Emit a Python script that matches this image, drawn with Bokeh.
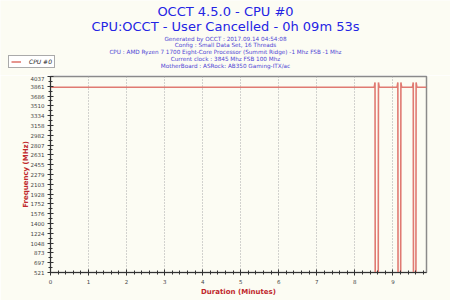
from bokeh.plotting import figure
from bokeh.layouts import column
from bokeh.models import (FixedTicker, Range1d, Label, Legend, LegendItem,
                          ColumnDataSource)
from bokeh.embed import file_html
from bokeh.resources import INLINE

# ---- data ----
time_min = [0.0, 0.05, 1.2, 2.6, 4.1, 5.5, 7.0, 8.51,
            8.53, 8.535, 8.615, 8.62, 8.64,
            9.11, 9.13, 9.135, 9.205, 9.21, 9.23,
            9.515, 9.535, 9.54, 9.605, 9.61, 9.63, 9.883]
freq_mhz = [3845, 3845, 3845, 3845, 3845, 3845, 3845, 3845,
            3930, 521, 521, 3930, 3845,
            3845, 3930, 521, 521, 3930, 3845,
            3845, 3930, 521, 521, 3930, 3845, 3845]
y_ticks = [521, 697, 873, 1048, 1224, 1400, 1576, 1752, 1928, 2103, 2279,
           2455, 2631, 2807, 2982, 3158, 3334, 3510, 3686, 3861, 4037]
x_ticks = [0, 1, 2, 3, 4, 5, 6, 7, 8, 9]
title_main = "OCCT 4.5.0 - CPU #0"
title_sub = "CPU:OCCT - User Cancelled - 0h 09m 53s"
info_lines = ["Generated by OCCT : 2017.09.14 04:54:08",
              "Config : Small Data Set, 16 Threads",
              "CPU : AMD Ryzen 7 1700 Eight-Core Processor (Summit Ridge) -1 Mhz FSB -1 Mhz",
              "Current clock : 3845 Mhz FSB 100 Mhz",
              "MotherBoard : ASRock: AB350 Gaming-ITX/ac"]
series_name = "CPU #0"

BG = "#FCFCF3"
FONT = "DejaVu Sans"
LINE = "#E07A72"
TITLE_C = "#2424E4"
INFO_C = "#4E44D4"

# ---------------- header (titles + legend) ----------------
TOP_H = 75
top = figure(width=450, height=TOP_H, output_backend="svg",
             toolbar_location=None, x_axis_location=None, y_axis_location=None,
             x_range=Range1d(0, 450), y_range=Range1d(TOP_H, 0),
             min_border=0, frame_align=False)
top.grid.grid_line_color = None
top.outline_line_color = None
top.background_fill_color = BG
top.border_fill_color = BG

top.add_layout(Label(x=225, y=11, text=title_main, text_align="center",
                     text_baseline="middle", text_font=FONT,
                     text_font_size="13px", text_color=TITLE_C))
top.add_layout(Label(x=225, y=25.5, text=title_sub, text_align="center",
                     text_baseline="middle", text_font=FONT,
                     text_font_size="13px", text_color=TITLE_C))
info_y = [38.3, 44.9, 51.9, 58.9, 65.7]
for yy, line in zip(info_y, info_lines):
    top.add_layout(Label(x=225, y=yy, text=line, text_align="center",
                         text_baseline="middle", text_font=FONT,
                         text_font_size="5.7px", text_color=INFO_C))

# legend swatch renderer (draws nothing itself)
legend_line = top.line(x=[float("nan")], y=[float("nan")],
                       line_color=LINE, line_width=1.6)
legend = Legend(items=[LegendItem(label=series_name,
                                  renderers=[legend_line])],
                location=(8, 7), background_fill_color="#FFFFFF",
                background_fill_alpha=1.0,
                border_line_color="#555555", border_line_width=1,
                label_text_font=FONT, label_text_font_size="6px",
                label_text_font_style="italic", label_text_color="#222222",
                glyph_width=10, glyph_height=5, label_height=5,
                label_standoff=8, padding=2, margin=0, spacing=0)
top.add_layout(legend, "center")

# ---------------- chart ----------------
p = figure(width=450, height=300 - TOP_H, output_backend="svg",
           toolbar_location=None, frame_align=False,
           x_range=Range1d(0, 9.883), y_range=Range1d(521, 4037),
           min_border_left=50, min_border_right=24, min_border_bottom=28,
           min_border_top=1)
p.background_fill_color = BG
p.border_fill_color = BG
p.outline_line_color = "#8A8A8A"
p.outline_line_width = 1.5

src = ColumnDataSource(dict(t=time_min, f=freq_mhz))
p.line("t", "f", source=src, line_color=LINE, line_width=1.6)

for ax in (p.xaxis[0], p.yaxis[0]):
    ax.axis_line_color = "#333333"
    ax.major_tick_line_color = "#333333"
    ax.minor_tick_line_color = "#333333"
    ax.major_tick_in = 3
    ax.major_tick_out = 3
    ax.minor_tick_in = 2
    ax.minor_tick_out = 2
    ax.major_label_text_font = FONT
    ax.major_label_text_font_size = "5.5px"
    ax.major_label_text_color = "#444444"
    ax.axis_label_text_font = FONT
    ax.axis_label_text_font_size = "7px"
    ax.axis_label_text_font_style = "bold"
    ax.axis_label_text_color = "#C0282C"
    ax.major_label_standoff = 3

p.xaxis.axis_label_standoff = 1
p.yaxis.axis_label_standoff = -2

p.xaxis.ticker = FixedTicker(ticks=x_ticks,
                             minor_ticks=[i / 5 for i in range(0, 50)])
p.yaxis.ticker = FixedTicker(ticks=y_ticks,
                             minor_ticks=[(y_ticks[i] + y_ticks[i + 1]) / 2
                                          for i in range(len(y_ticks) - 1)])
p.xaxis.axis_label = "Duration (Minutes)"
p.yaxis.axis_label = "Frequency (MHz)"

p.ygrid.grid_line_color = None
p.xgrid.grid_line_color = "#A8A8A8"
p.xgrid.grid_line_dash = "1 2"
p.xgrid.grid_line_width = 1

layout = column(top, p, spacing=0)
open("out.html", "w").write(file_html(layout, INLINE))
